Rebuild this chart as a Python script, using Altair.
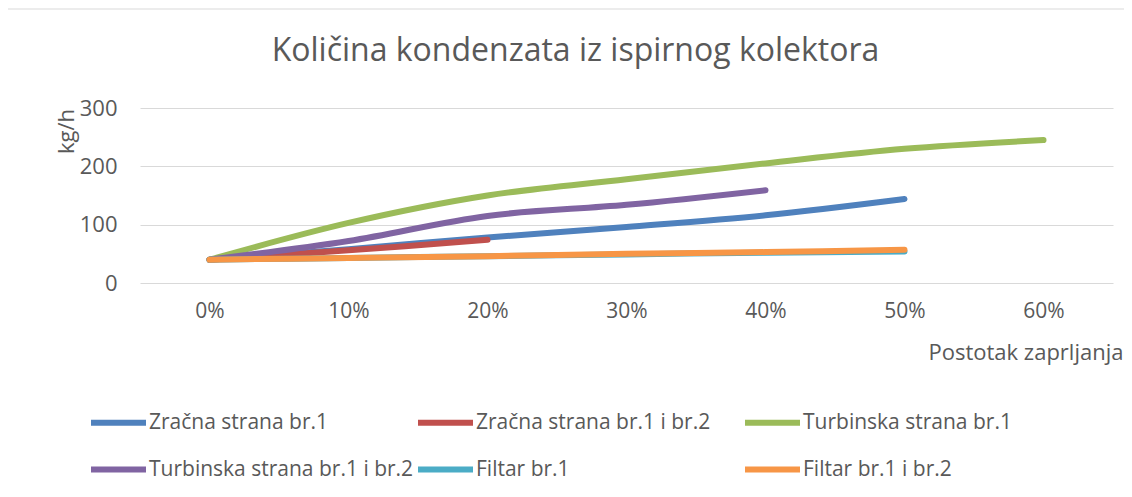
import altair as alt
import pandas as pd

categories = ["0%", "10%", "20%", "30%", "40%", "50%", "60%"]

series_names = [
    "Zračna strana br.1",
    "Zračna strana br.1 i br.2",
    "Turbinska strana br.1",
    "Turbinska strana br.1 i br.2",
    "Filtar br.1",
    "Filtar br.1 i br.2",
]
series_colors = ["#4F81BD", "#C0504D", "#9BBB59", "#8064A2", "#4BACC6", "#F79646"]

zracna_1 = [40, 58, 78, 96, 116, 144]
zracna_1_2 = [40, 56, 74]
turbinska_1 = [40, 103, 150, 178, 205, 230, 245]
turbinska_1_2 = [40, 72, 115, 134, 159]
filtar_1 = [40, 43, 46, 49, 52, 54]
filtar_1_2 = [40, 43, 46, 50, 53, 57]

all_values = [zracna_1, zracna_1_2, turbinska_1, turbinska_1_2, filtar_1, filtar_1_2]

rows = []
for name, vals in zip(series_names, all_values):
    for cat, v in zip(categories, vals):
        rows.append({"kat": cat, "serija": name, "vrijednost": v})
df = pd.DataFrame(rows)

FONT = "Open Sans"
GREY = "#595959"

base = alt.Chart(df).encode(
    x=alt.X(
        "kat:N",
        sort=categories,
        scale=alt.Scale(domain=categories, type="point", padding=0.5),
        axis=alt.Axis(
            title="Postotak zaprljanja",
            labelAngle=0,
            labelFontSize=21,
            labelColor=GREY,
            labelFont=FONT,
            labelPadding=17,
            ticks=False,
            domain=False,
            grid=False,
            titleFont=FONT,
            titleFontSize=22,
            titleFontWeight="normal",
            titleColor=GREY,
            titleAlign="left",
            titleBaseline="middle",
            titleX=788,
            titleY=69,
        ),
    ),
    y=alt.Y(
        "vrijednost:Q",
        scale=alt.Scale(domain=[0, 300]),
        axis=alt.Axis(
            title="kg/h",
            values=[0, 100, 200, 300],
            labelFontSize=22,
            labelColor=GREY,
            labelFont=FONT,
            labelPadding=23,
            ticks=False,
            domain=False,
            gridColor="#D9D9D9",
            gridWidth=1,
            titleFont=FONT,
            titleFontSize=22,
            titleFontWeight="normal",
            titleColor=GREY,
            titleAngle=-90,
            titleAlign="center",
            titleBaseline="middle",
            titleX=-74,
            titleY=23,
        ),
    ),
    color=alt.Color(
        "serija:N",
        scale=alt.Scale(domain=series_names, range=series_colors),
        legend=alt.Legend(
            title=None,
            orient="none",
            legendX=-52,
            legendY=284,
            direction="horizontal",
            columns=3,
            gridAlign="all",
            symbolType="stroke",
            symbolSize=3025,
            symbolStrokeWidth=6,
            labelFont=FONT,
            labelFontSize=21,
            labelColor=GREY,
            labelLimit=500,
            labelOffset=0,
            columnPadding=-8,
            rowPadding=4,
            padding=0,
        ),
    ),
)

layers = []
for name in series_names:
    layers.append(
        base.transform_filter(alt.datum.serija == name).mark_line(
            strokeWidth=6, strokeCap="round", strokeJoin="round", interpolate="catmull-rom"
        )
    )

border = (
    alt.Chart(pd.DataFrame({"a": [0]}))
    .mark_rect(fillOpacity=0, stroke="#D9D9D9", strokeWidth=1)
    .encode(x=alt.value(-133), x2=alt.value(1100), y=alt.value(-99), y2=alt.value(420))
)

chart = (
    alt.layer(border, *layers)
    .properties(
        width=973,
        height=175,
        autosize=alt.AutoSizeParams(type="none"),
        padding={"left": 132, "top": 100, "right": 11, "bottom": 200},
        title=alt.TitleParams(
            text="Količina kondenzata iz ispirnog kolektora",
            font=FONT,
            fontSize=32,
            fontWeight="normal",
            color=GREY,
            anchor="middle",
            dx=-51,
            offset=0,
            dy=59,
        ),
    )
    .configure_view(stroke=None)
)

chart.save("out.html", embed_options={"renderer": "svg", "actions": False})
